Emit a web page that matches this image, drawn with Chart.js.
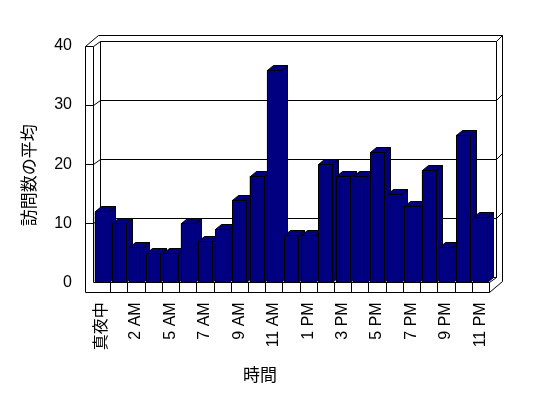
<!DOCTYPE html>
<html lang="ja">
<head>
  <meta charset="UTF-8">
  <title>訪問数の平均</title>
  <script src="https://cdn.jsdelivr.net/npm/chart.js"></script>
  <style>
    body {
      margin: 0;
      background: #fff;
    }
  </style>
</head>
<body>
  <canvas id="visitsChart" width="548" height="398"></canvas>

  <script>
    // hours of the day (no 4 AM row in the source data)
    const hours = ['真夜中', '1 AM', '2 AM', '3 AM', '5 AM', '6 AM', '7 AM', '8 AM', '9 AM', '10 AM', '11 AM', '正午',
                   '1 PM', '2 PM', '3 PM', '4 PM', '5 PM', '6 PM', '7 PM', '8 PM', '9 PM', '10 PM', '11 PM'];
    const avgVisits = [12, 10, 6, 5, 5, 10, 7, 9, 14, 18, 36, 8, 8, 20, 18, 18, 22, 15, 13, 19, 6, 25, 11];
    const yTicks = [0, 10, 20, 30, 40];

    const yTitle = '訪問数の平均';
    const xTitle = '時間';

    const latin = '"Liberation Sans", "Noto Sans CJK JP", sans-serif';
    const cjk = '"Noto Sans CJK JP", sans-serif';

    // 3D look: back wall offset, bar depth, slab thickness
    const wall = { dx: 6.7, dy: -5.5 };
    const barDepth = { dx: 6, dy: -5 };
    const wallThick = 8;
    const floorThick = 9.5;
    const navy = '#000080';

    function crisp(v) {
      return Math.round(v) + 0.5;
    }

    function path(ctx, pts) {
      ctx.beginPath();
      pts.forEach(([px, py], i) => {
        if (i === 0) ctx.moveTo(crisp(px), crisp(py));
        else ctx.lineTo(crisp(px), crisp(py));
      });
    }

    const frame3d = {
      id: 'frame3d',
      beforeDatasetsDraw(chart) {
        const { ctx, chartArea: a, scales } = chart;
        const { dx, dy } = wall;
        const L = a.left, R = a.right, T = a.top, B = a.bottom;
        const ox = L - wallThick, fb = B + floorThick;

        ctx.save();
        ctx.strokeStyle = '#000';
        ctx.lineWidth = 1;

        // outer outline of walls + floor
        path(ctx, [[L, T], [ox, T], [ox, fb], [R, fb], [R + 2 * dx, fb + 2 * dy],
                   [R + 2 * dx, T + 2 * dy], [ox + 2 * dx, T + 2 * dy], [ox, T]]);
        ctx.stroke();
        path(ctx, [[L, T], [L, B], [R, B], [R, fb]]);
        ctx.stroke();

        // back wall inner face
        path(ctx, [[L, T], [L + dx, T + dy], [R + dx, T + dy], [R + 2 * dx, T + 2 * dy]]);
        ctx.stroke();
        path(ctx, [[L + dx, T + dy], [L + dx, B + dy], [R + dx, B + dy], [R + dx, T + dy]]);
        ctx.stroke();
        path(ctx, [[R, B], [R + dx, B + dy]]);
        ctx.stroke();

        // gridlines on the back wall
        yTicks.slice(1, -1).forEach(v => {
          const py = scales.y.getPixelForValue(v);
          path(ctx, [[ox, py], [L, py], [L + dx, py + dy], [R + dx, py + dy], [R + 2 * dx, py + 2 * dy]]);
          ctx.stroke();
        });

        // category ticks on the floor front
        for (let i = 1; i < hours.length; i++) {
          const px = (scales.x.getPixelForValue(i - 1) + scales.x.getPixelForValue(i)) / 2;
          path(ctx, [[px, B], [px, fb]]);
          ctx.stroke();
        }
        ctx.restore();
      },

      afterDatasetsDraw(chart) {
        const { ctx } = chart;
        const { dx, dy } = barDepth;
        ctx.save();
        ctx.fillStyle = navy;
        ctx.strokeStyle = '#000';
        ctx.lineWidth = 1;
        chart.getDatasetMeta(0).data.forEach(bar => {
          const p = bar.getProps(['x', 'y', 'base', 'width'], true);
          const l = p.x - p.width / 2, r = p.x + p.width / 2;
          const faces = [
            [[r, p.y], [r + dx, p.y + dy], [r + dx, p.base + dy], [r, p.base]],
            [[l, p.y], [l + dx, p.y + dy], [r + dx, p.y + dy], [r, p.y]],
            [[l, p.y], [r, p.y], [r, p.base], [l, p.base]]
          ];
          faces.forEach(f => {
            path(ctx, f);
            ctx.closePath();
            ctx.fill();
            ctx.stroke();
          });
        });
        ctx.restore();
      },

      afterDraw(chart) {
        const { ctx, chartArea: a } = chart;
        ctx.save();
        ctx.fillStyle = '#000';
        ctx.font = '17px ' + cjk;
        ctx.textAlign = 'center';
        ctx.textBaseline = 'middle';
        ctx.fillText(xTitle, chart.width / 2 - 14, 375);
        ctx.translate(29, (a.top + a.bottom) / 2 + 11);
        ctx.rotate(-Math.PI / 2);
        ctx.fillText(yTitle, 0, 0);
        ctx.restore();
      }
    };

    const ctx = document.getElementById('visitsChart').getContext('2d');
    new Chart(ctx, {
      type: 'bar',
      data: {
        labels: hours,
        datasets: [{
          data: avgVisits,
          backgroundColor: navy,
          borderColor: '#000',
          borderWidth: 1,
          barPercentage: 0.82,
          categoryPercentage: 1
        }]
      },
      options: {
        responsive: false,
        animation: false,
        devicePixelRatio: 1,
        layout: { padding: { left: 0, right: 59, top: 46, bottom: 0 } },
        plugins: {
          legend: { display: false },
          tooltip: { enabled: false }
        },
        scales: {
          x: {
            grid: { display: false },
            border: { display: false },
            ticks: {
              autoSkip: false,
              minRotation: 90,
              maxRotation: 90,
              padding: 12,
              labelOffset: 0,
              color: '#000',
              font: { size: 16, family: latin },
              callback: (v, i) => (i % 2 === 0 ? hours[i] : '')
            },
            afterFit(scale) { scale.height = 115.7; }
          },
          y: {
            min: 0,
            max: 40,
            grid: { display: false },
            border: { display: false },
            ticks: {
              stepSize: 10,
              padding: 13,
              color: '#000',
              font: { size: 16, family: latin }
            },
            afterFit(scale) { scale.width = 93; }
          }
        }
      },
      plugins: [frame3d]
    });
  </script>
</body>
</html>
